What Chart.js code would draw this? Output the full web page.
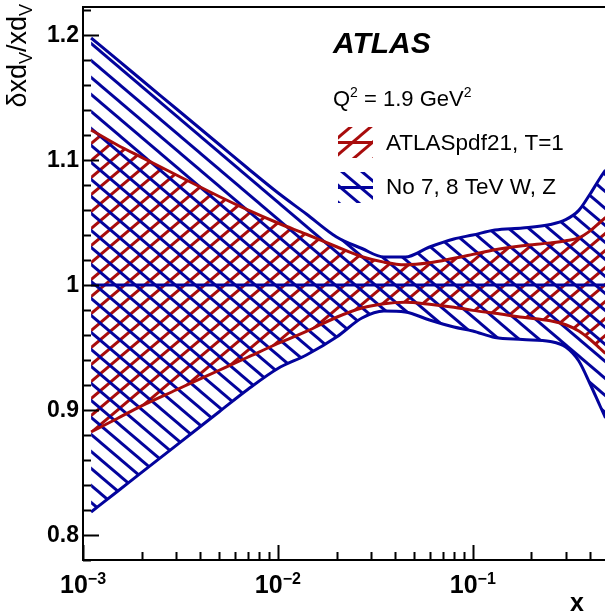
<!DOCTYPE html>
<html><head><meta charset="utf-8">
<script src="https://cdn.jsdelivr.net/npm/chart.js@4/dist/chart.umd.min.js"></script>
<style>
html,body{margin:0;padding:0;overflow:hidden;background:#fff;width:605px;height:615px}
canvas{display:block}
</style></head>
<body>
<canvas id="c" width="612" height="615" style="width:612px;height:615px"></canvas>
<script>
// ---- data ----
const xValues = [0.0011, 0.0015, 0.002, 0.003, 0.005, 0.007, 0.01, 0.014, 0.02, 0.027, 0.035, 0.045, 0.06, 0.08, 0.1, 0.13, 0.18, 0.25, 0.3, 0.35, 0.4, 0.45, 0.48];
const blueUpper = [1.1976, 1.1803, 1.164, 1.1412, 1.1124, 1.0934, 1.0738, 1.0568, 1.0384, 1.0292, 1.0224, 1.0224, 1.0304, 1.0368, 1.040, 1.044, 1.0456, 1.0484, 1.0523, 1.0597, 1.0728, 1.0856, 1.092];
const blueLower = [0.8184, 0.8348, 0.8501, 0.8715, 0.8986, 0.9164, 0.9332, 0.944, 0.9584, 0.9736, 0.9792, 0.9784, 0.972, 0.9664, 0.9632, 0.958, 0.9564, 0.9548, 0.9504, 0.9392, 0.9208, 0.9032, 0.8936];
const redUpper = [1.124, 1.112, 1.1021, 1.0882, 1.0708, 1.0601, 1.0496, 1.0406, 1.0306, 1.0226, 1.0183, 1.0162, 1.0178, 1.0214, 1.0245, 1.0282, 1.0314, 1.0337, 1.0354, 1.0377, 1.0433, 1.0502, 1.054];
const redLower = [0.8824, 0.8932, 0.9033, 0.916, 0.9318, 0.9422, 0.9532, 0.9629, 0.9742, 0.9816, 0.985, 0.9862, 0.9846, 0.9822, 0.9797, 0.9774, 0.9742, 0.9714, 0.9682, 0.9632, 0.9564, 0.9492, 0.9452];
const centralRatio = [1, 1, 1, 1, 1, 1, 1, 1, 1, 1, 1, 1, 1, 1, 1, 1, 1, 1, 1, 1, 1, 1, 1];
const yTickLabels = [0.8, 0.9, 1.0, 1.1, 1.2];
const xTickExponents = [-3, -2, -1];
const seriesNames = ['ATLASpdf21, T=1', 'No 7, 8 TeV W, Z'];

const X_MIN = 0.001, X_MAX = 0.5, Y_MIN = 0.78, Y_MAX = 1.2224;
const BLUE = '#03039c', RED = '#a80c0c';
const FONT = "'Liberation Sans', Arial, Helvetica, sans-serif";

function hatch(color, descending) {
  const W = 20, H = 17;
  const c = document.createElement('canvas');
  c.width = W; c.height = H;
  const g = c.getContext('2d');
  g.strokeStyle = color; g.lineWidth = 2.9; g.lineCap = 'butt';
  for (let k = -2; k <= 2; k++) {
    g.beginPath();
    if (descending) { g.moveTo(-W, k*H - H); g.lineTo(2*W, k*H + 2*H); }
    else { g.moveTo(-W, k*H + 2*H); g.lineTo(2*W, k*H - H); }
    g.stroke();
  }
  return g.createPattern(c, 'repeat');
}
const bluePat = hatch(BLUE, true);
const redPat = hatch(RED, false);

const pts = arr => xValues.map((x, i) => ({x, y: arr[i]}));
const lineDs = (label, arr, color, extra) => Object.assign({
  label, data: pts(arr), borderColor: color, borderWidth: 3, pointRadius: 0,
  cubicInterpolationMode: 'monotone', fill: false
}, extra || {});

const decor = {
  id: 'decor',
  afterDraw(chart) {
    const {ctx, chartArea: a, scales: {x: sx, y: sy}} = chart;
    ctx.save();
    ctx.strokeStyle = '#000';
    ctx.lineWidth = 2;
    ctx.strokeRect(a.left, a.top, a.right - a.left, a.bottom - a.top);
    ctx.beginPath();
    for (let k = 39; k <= 61; k++) {
      const v = k * 0.02;
      if (v < Y_MIN || v > Y_MAX) continue;
      const py = Math.round(sy.getPixelForValue(v)) + 0.5;
      ctx.moveTo(a.left, py); ctx.lineTo(a.left + (k % 5 === 0 ? 16 : 8), py);
    }
    for (const e of xTickExponents) {
      for (let m = 1; m <= 9; m++) {
        const v = m * Math.pow(10, e);
        if (v > X_MAX) continue;
        const px = Math.round(sx.getPixelForValue(v)) + 0.5;
        ctx.moveTo(px, a.bottom); ctx.lineTo(px, a.bottom - (m === 1 ? 15 : 8));
      }
    }
    ctx.stroke();

    ctx.fillStyle = '#000';
    // y tick labels
    ctx.font = 'bold 23px ' + FONT;
    ctx.textAlign = 'right';
    ctx.textBaseline = 'middle';
    for (const v of yTickLabels) {
      ctx.fillText(String(Math.round(v * 10) / 10), a.left - 4, sy.getPixelForValue(v) + 1);
    }
    ctx.textBaseline = 'alphabetic';
    ctx.textAlign = 'left';
    // x tick labels 10^{n}
    for (const e of xTickExponents) {
      const px = sx.getPixelForValue(Math.pow(10, e));
      ctx.font = 'bold 25px ' + FONT;
      const wb = ctx.measureText('10').width;
      ctx.font = 'bold 16px ' + FONT;
      const sup = '\u2212' + Math.abs(e);
      const ws = ctx.measureText(sup).width;
      const x0 = px - (wb + ws) / 2;
      ctx.font = 'bold 25px ' + FONT;
      ctx.fillText('10', x0, 593);
      ctx.font = 'bold 16px ' + FONT;
      ctx.fillText(sup, x0 + wb, 584);
    }
    // x title
    ctx.font = 'bold 25px ' + FONT;
    ctx.textAlign = 'center';
    ctx.fillText('x', 577, 611);
    // y title (rotated)
    ctx.save();
    ctx.translate(26, 4);
    ctx.rotate(-Math.PI / 2);
    const parts = [['\u03b4xd', 27, 0], ['V', 18, 6], ['/xd', 27, 0], ['V', 18, 6]];
    let tot = 0;
    for (const p of parts) { ctx.font = p[1] + 'px ' + FONT; tot += ctx.measureText(p[0]).width; }
    let cx = -tot;
    ctx.textAlign = 'left';
    for (const p of parts) {
      ctx.font = p[1] + 'px ' + FONT;
      ctx.fillText(p[0], cx, p[2]);
      cx += ctx.measureText(p[0]).width;
    }
    ctx.restore();

    // ATLAS label
    ctx.textAlign = 'left';
    ctx.font = 'italic bold 30px ' + FONT;
    ctx.fillText('ATLAS', 333, 53);
    // Q^2 label
    let qx = 333;
    const seg = [['Q', 22, 0], ['2', 14, -9], [' = 1.9 GeV', 22, 0], ['2', 14, -9]];
    for (const s of seg) {
      ctx.font = s[1] + 'px ' + FONT;
      ctx.fillText(s[0], qx, 106 + s[2]);
      qx += ctx.measureText(s[0]).width;
    }
    // legend entries
    const ent = [[redPat, RED, 127, 150], [bluePat, BLUE, 172, 194]];
    ent.forEach((en, i) => {
      ctx.fillStyle = en[0];
      ctx.fillRect(338, en[2], 35, 31);
      ctx.strokeStyle = en[1]; ctx.lineWidth = 3;
      ctx.beginPath();
      ctx.moveTo(338, en[2] + 15.5); ctx.lineTo(373, en[2] + 15.5);
      ctx.stroke();
      ctx.fillStyle = '#000';
      ctx.font = '22.5px ' + FONT;
      ctx.fillText(seriesNames[i], 386, en[3]);
    });
    ctx.restore();
  }
};

new Chart(document.getElementById('c'), {
  type: 'line',
  data: {
    datasets: [
      lineDs('central', centralRatio, BLUE),
      lineDs(seriesNames[1] + ' up', blueUpper, BLUE, {fill: '+1', backgroundColor: bluePat}),
      lineDs(seriesNames[1] + ' down', blueLower, BLUE),
      lineDs(seriesNames[0] + ' up', redUpper, RED, {fill: '+1', backgroundColor: redPat}),
      lineDs(seriesNames[0] + ' down', redLower, RED)
    ]
  },
  options: {
    responsive: false,
    animation: false,
    devicePixelRatio: 1,
    layout: {padding: {left: 0, right: 3, top: 7, bottom: 0}},
    plugins: {
      legend: {display: false},
      tooltip: {enabled: false},
      filler: {drawTime: 'beforeDatasetsDraw'}
    },
    scales: {
      x: {
        type: 'logarithmic', min: X_MIN, max: X_MAX,
        grid: {display: false}, border: {display: false},
        ticks: {display: false},
        afterFit: s => { s.height = 55; }
      },
      y: {
        type: 'linear', min: Y_MIN, max: Y_MAX,
        grid: {display: false, drawTicks: false}, border: {display: false},
        ticks: {display: false},
        afterFit: s => { s.width = 83; }
      }
    }
  },
  plugins: [decor]
});
</script>
</body></html>
